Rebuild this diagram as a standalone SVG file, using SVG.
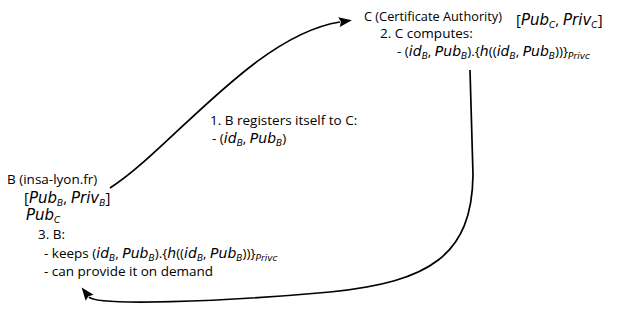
<svg xmlns="http://www.w3.org/2000/svg" width="623" height="323" viewBox="0 0 623 323">
  <style>
    text { font-family: "Open Sans", "DejaVu Sans", sans-serif; font-size: 13.5px; fill: #000; }
    .m { font-family: "DejaVu Sans", sans-serif; font-style: italic; font-size: 14px; }
    .big { font-size: 15px; }
    .big .m, .m.big { font-size: 15px; }
    .sub { font-family: "DejaVu Sans", sans-serif; font-size: 9px; font-style: italic; }
    .edge { fill: none; stroke: #000; stroke-width: 1.7; }
  </style>
  <defs>
    <marker id="head" markerUnits="userSpaceOnUse" markerWidth="14" markerHeight="12" refX="0" refY="0" orient="auto" overflow="visible">
      <path d="M-1,-5 L12,0 L-1,5 L1,0 Z" fill="#000"/>
    </marker>
  </defs>

  <!-- connectors -->
  <g id="connectors">
    <path id="e-register" class="edge" d="M110,188 C170,150 255,35 340,22" marker-end="url(#head)"/>
    <path id="e-return" class="edge" d="M470,70 L473,175 C472,255 430,282 330,292 C220,302 96,306 89,297" marker-end="url(#head)"/>
  </g>

  <!-- certificate authority -->
  <g id="node-c">
    <text x="364" y="21" textLength="138" lengthAdjust="spacingAndGlyphs">C (Certificate Authority)</text>
    <text class="big" x="516" y="25">[<tspan class="m">Pub</tspan><tspan class="sub" dy="3">C</tspan><tspan dy="-3">, </tspan><tspan class="m">Priv</tspan><tspan class="sub" dy="3">C</tspan><tspan dy="-3">]</tspan></text>
    <text x="380" y="38">2. C computes:</text>
    <text x="397" y="56">- (<tspan class="m">id</tspan><tspan class="sub" dy="2.5">B</tspan><tspan dy="-2.5">, </tspan><tspan class="m">Pub</tspan><tspan class="sub" dy="2.5">B</tspan><tspan dy="-2.5">).{</tspan><tspan class="m">h</tspan>((<tspan class="m">id</tspan><tspan class="sub" dy="2.5">B</tspan><tspan dy="-2.5">, </tspan><tspan class="m">Pub</tspan><tspan class="sub" dy="2.5">B</tspan><tspan dy="-2.5">))}</tspan><tspan class="sub" dy="3">Privc</tspan></text>
  </g>

  <!-- registration label -->
  <g id="label-register">
    <text x="210" y="125">1. B registers itself to C:</text>
    <text x="212" y="143">- (<tspan class="m">id</tspan><tspan class="sub" dy="2.5">B</tspan><tspan dy="-2.5">, </tspan><tspan class="m">Pub</tspan><tspan class="sub" dy="2.5">B</tspan><tspan dy="-2.5">)</tspan></text>
  </g>

  <!-- client B -->
  <g id="node-b">
    <text x="7" y="184">B (insa-lyon.fr)</text>
    <text class="big" x="24" y="203">[<tspan class="m">Pub</tspan><tspan class="sub" dy="3">B</tspan><tspan dy="-3">, </tspan><tspan class="m">Priv</tspan><tspan class="sub" dy="3">B</tspan><tspan dy="-3">]</tspan></text>
    <text class="big m" x="26" y="220">Pub<tspan class="sub" dy="2.5">C</tspan></text>
    <text x="38" y="239">3. B:</text>
    <text x="44" y="258">- keeps (<tspan class="m">id</tspan><tspan class="sub" dy="2.5">B</tspan><tspan dy="-2.5">, </tspan><tspan class="m">Pub</tspan><tspan class="sub" dy="2.5">B</tspan><tspan dy="-2.5">).{</tspan><tspan class="m">h</tspan>((<tspan class="m">id</tspan><tspan class="sub" dy="2.5">B</tspan><tspan dy="-2.5">, </tspan><tspan class="m">Pub</tspan><tspan class="sub" dy="2.5">B</tspan><tspan dy="-2.5">))}</tspan><tspan class="sub" dy="3">Privc</tspan></text>
    <text x="44" y="276">- can provide it on demand</text>
  </g>
</svg>
